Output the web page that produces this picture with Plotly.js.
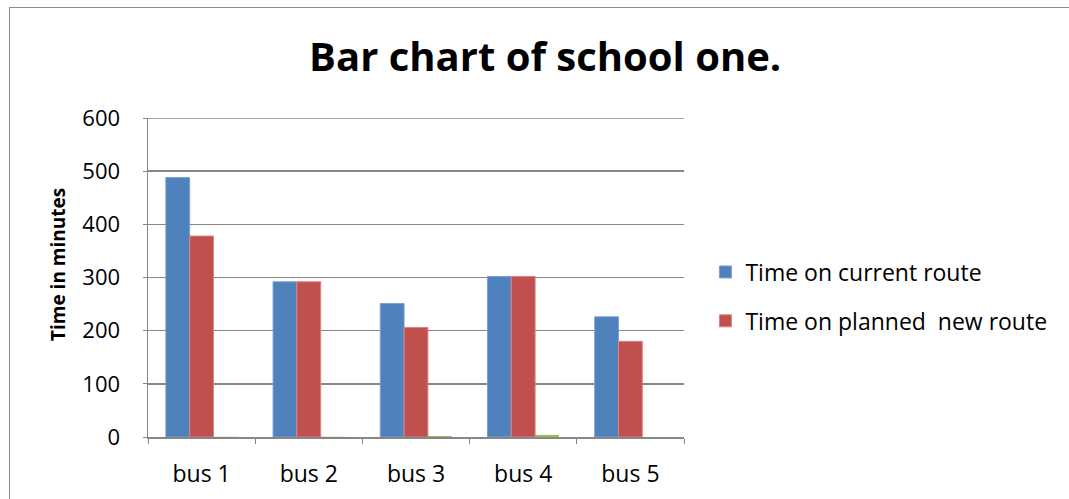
<!DOCTYPE html>
<html>
<head>
<meta charset="utf-8">
<script src="https://cdn.plot.ly/plotly-3.0.1.min.js"></script>
<style>
  html, body { margin: 0; padding: 0; background: #fff; }
  #wrap { position: relative; width: 1069px; height: 499px; overflow: hidden; }
  #chart { width: 1069px; height: 499px; }
  #frame { position: absolute; left: 9px; top: 7px; width: 1080px; height: 520px;
           border: 1.5px solid #8c8c8c; pointer-events: none; box-sizing: border-box; }
</style>
</head>
<body>
<div id="wrap">
  <div id="chart"></div>
  <div id="frame"></div>
</div>
<script>
const categories = ["bus 1", "bus 2", "bus 3", "bus 4", "bus 5"];
const currentRoute = [488, 292, 251, 302, 226];
const plannedRoute = [378, 292, 206, 302, 180];
const thirdSeries = [0.5, 0.5, 2, 4, 0];
const seriesNames = ["Time on current route", "Time on planned  new route", "Series 3"];
const yTicks = [0, 100, 200, 300, 400, 500, 600];

const font = "Open Sans, Liberation Sans, sans-serif";

const traces = [
  { type: "bar", x: categories, y: currentRoute, name: seriesNames[0], legendgroup: "a",
    marker: { color: "#4F81BD", line: { color: "#7DA0D0", width: 1 } } },
  { type: "bar", x: categories, y: plannedRoute, name: seriesNames[1], legendgroup: "b",
    marker: { color: "#C0504D", line: { color: "#D98582", width: 1 } } },
  { type: "bar", x: categories, y: thirdSeries, name: seriesNames[2], showlegend: false, legendgroup: "c",
    marker: { color: "#9BBB59" } }
];

const layout = {
  width: 1069, height: 499,
  margin: { l: 148, r: 385, t: 118, b: 62 },
  paper_bgcolor: "#fff", plot_bgcolor: "#fff",
  barmode: "group", bargap: 0.333, bargroupgap: 0,
  font: { family: font, color: "#000" },
  title: { text: "<b>Bar chart of school one.</b>", font: { family: font, size: 40, color: "#000" },
           x: 0.51, xanchor: "center", y: 0.885, yanchor: "middle" },
  xaxis: { type: "category", showline: true, linecolor: "#868686", linewidth: 1.5,
           ticks: "outside", tickson: "boundaries", ticklen: 5, tickcolor: "#868686",
           ticklabelstandoff: 16,
           tickfont: { size: 23, family: font }, showgrid: false, fixedrange: true },
  yaxis: { range: [0, 600], tickvals: yTicks, ticktext: yTicks.map(String),
           showline: true, linecolor: "#868686", linewidth: 1.5,
           ticks: "outside", ticklen: 4, tickcolor: "#868686",
           ticklabelstandoff: 18,
           showgrid: true, gridcolor: "#868686", gridwidth: 1.5, zeroline: false,
           tickfont: { size: 22, family: font } },
  shapes: [
    { type: "line", xref: "paper", yref: "y", x0: 0, x1: 1, y0: 600, y1: 600,
      line: { color: "#868686", width: 1.5 } }
  ],
  annotations: [
    { text: "<b>Time in minutes</b>", textangle: -90, xref: "paper", yref: "paper",
      x: (58 - 148) / 536, y: (437 - 265) / 319, xanchor: "center", yanchor: "middle",
      showarrow: false, font: { size: 19, family: font, color: "#000" } }
  ],
  legend: { x: 1.04, y: (437 - 296.5) / 319, xanchor: "left", yanchor: "middle",
            font: { size: 23, family: font }, tracegroupgap: 16, itemwidth: 30 },
  showlegend: true
};

Plotly.newPlot("chart", traces, layout, { displayModeBar: false, staticPlot: true });
</script>
</body>
</html>
